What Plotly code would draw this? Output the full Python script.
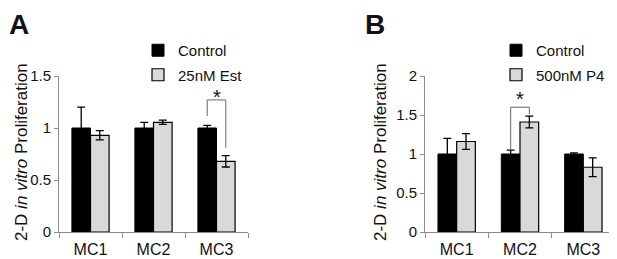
import plotly.graph_objects as go

# ---------------- data ----------------
categories = ["MC1", "MC2", "MC3"]

a_control = [1.0, 1.0, 1.0]
a_control_err = [0.2, 0.055, 0.025]
a_est = [0.93, 1.055, 0.68]
a_est_err = [0.045, 0.02, 0.055]

b_control = [1.0, 1.0, 1.0]
b_control_err = [0.2, 0.05, 0.015]
b_p4 = [1.16, 1.41, 0.83]
b_p4_err = [0.10, 0.075, 0.12]

a_yticks = [0, 0.5, 1, 1.5]
a_yticklabels = ["0", "0.5", "1", "1.5"]
b_yticks = [0, 0.5, 1, 1.5, 2]
b_yticklabels = ["0", "0.5", "1", "1.5", "2"]

# ---------------- style ----------------
FONT = "Arial, Liberation Sans, sans-serif"
AXIS_COLOR = "#8c8c8c"
BLACK = "#000000"
GREY = "#d9d9d9"

# page body has an 8px default margin -> the figure sits at (8, 8)
OFF = 8
W, H = 617 - OFF, 259 - OFF

def px(xp):
    return (xp - OFF) / W

def py(yp):
    return 1 - (yp - OFF) / H

fig = go.Figure()

def add_bars(x_ax, y_ax, ctrl, ctrl_err, trt, trt_err, trt_name, legend):
    fig.add_trace(go.Bar(
        x=categories, y=ctrl, name="Control", xaxis=x_ax, yaxis=y_ax,
        marker=dict(color=BLACK, line=dict(color=BLACK, width=1)),
        error_y=dict(type="data", array=ctrl_err, visible=True, color=BLACK,
                     thickness=1.3, width=4),
        legend=legend, legendgroup=legend + "c", offsetgroup="c",
    ))
    fig.add_trace(go.Bar(
        x=categories, y=trt, name=trt_name, xaxis=x_ax, yaxis=y_ax,
        marker=dict(color=GREY, line=dict(color=BLACK, width=1.2)),
        error_y=dict(type="data", array=trt_err, visible=True, color=BLACK,
                     thickness=1.3, width=4),
        legend=legend, legendgroup=legend + "t", offsetgroup="t",
    ))

add_bars("x", "y", a_control, a_control_err, a_est, a_est_err, "25nM Est", "legend")
add_bars("x2", "y2", b_control, b_control_err, b_p4, b_p4_err, "500nM P4", "legend2")

xaxis_common = dict(
    type="category", showline=True, linecolor=AXIS_COLOR, linewidth=1,
    ticks="outside", tickson="boundaries", ticklen=5, tickcolor=AXIS_COLOR,
    tickfont=dict(family=FONT, size=16, color="#111"), ticklabelstandoff=3,
    showgrid=False, zeroline=False, fixedrange=True, automargin=False,
)
yaxis_common = dict(
    showline=True, linecolor=AXIS_COLOR, linewidth=1,
    ticks="outside", ticklen=4, tickcolor=AXIS_COLOR,
    tickfont=dict(family=FONT, size=15, color="#111"),
    showgrid=False, zeroline=False, fixedrange=True, automargin=False,
)

ydom = [py(232), py(76)]

fig.update_layout(
    width=W, height=H,
    margin=dict(l=0, r=0, t=0, b=0, autoexpand=False),
    paper_bgcolor="white", plot_bgcolor="white",
    barmode="group", bargap=0.41, bargroupgap=0.0,
    font=dict(family=FONT, color="#111"),
    xaxis=dict(domain=[px(59), px(248)], anchor="y", **xaxis_common),
    yaxis=dict(domain=ydom, anchor="x", range=[0, 1.5],
               tickvals=a_yticks, ticktext=a_yticklabels, **yaxis_common),
    xaxis2=dict(domain=[px(425), px(615)], anchor="y2", **xaxis_common),
    yaxis2=dict(domain=ydom, anchor="x2", range=[0, 2],
                tickvals=b_yticks, ticktext=b_yticklabels, **yaxis_common),
    legend=dict(x=px(138), y=py(34), xanchor="left", yanchor="top",
                bgcolor="rgba(0,0,0,0)", font=dict(family=FONT, size=15),
                traceorder="grouped", tracegroupgap=2, itemwidth=30),
    legend2=dict(x=px(496), y=py(34), xanchor="left", yanchor="top",
                 bgcolor="rgba(0,0,0,0)", font=dict(family=FONT, size=15),
                 traceorder="grouped", tracegroupgap=2, itemwidth=30),
    showlegend=True,
)

# significance brackets: (x axis, y axis, category, left leg bottom, right leg bottom, top, star y)
brackets = [
    ("x", "y", 2, 1.115, 0.81, 1.27, 1.30),
    ("x2", "y2", 1, 1.06, 1.51, 1.60, 1.70),
]
offset = 0.295 / 2
for xr, yr, ci, lb, rb, top, sy in brackets:
    xl = ci - offset
    xrr = ci + offset
    fig.add_shape(type="path", xref=xr, yref=yr,
                  path=f"M {xl},{lb} L {xl},{top} L {xrr},{top} L {xrr},{rb}",
                  line=dict(color="#666", width=1))
    fig.add_annotation(x=ci, y=sy, xref=xr, yref=yr, text="*", showarrow=False,
                       yanchor="middle", font=dict(family=FONT, size=20, color="#111"))

# y titles
for xpos in (21, 380):
    fig.add_annotation(x=px(xpos), y=py(152), xref="paper", yref="paper",
                       xanchor="center", yanchor="middle",
                       text="2-D <i>in vitro</i> Proliferation", textangle=-90,
                       showarrow=False, font=dict(family=FONT, size=17, color="#111"))

# panel letters
for xpos, anchor, letter in ((0.0, "left", "A"), (px(375), "center", "B")):
    fig.add_annotation(x=xpos, y=1.0, xref="paper", yref="paper",
                       xanchor=anchor, yanchor="top", borderpad=0,
                       text=f"<b>{letter}</b>", showarrow=False,
                       font=dict(family=FONT, size=28, color="#111"))

fig.write_html("out.html")
